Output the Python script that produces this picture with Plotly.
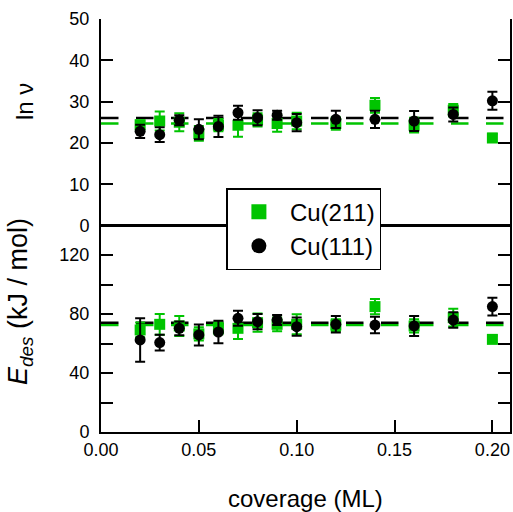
import plotly.graph_objects as go

# ---------------- data ----------------
coverage = [0.02, 0.03, 0.04, 0.05, 0.06, 0.07, 0.08, 0.09, 0.10, 0.12, 0.14, 0.16, 0.18, 0.20]

# ln(nu)
lnnu_211 = [24.4, 25.3, 25.0, 22.3, 24.3, 24.3, 25.6, 24.7, 25.3, 24.7, 29.1, 24.3, 27.9, 21.2]
lnnu_211_err = [1.0, 2.3, 2.2, 1.8, 1.5, 2.8, 1.6, 2.0, 2.0, 1.5, 1.8, 1.8, 1.5, 1.0]
lnnu_111 = [22.8, 22.0, 25.5, 23.3, 24.0, 27.3, 26.1, 26.7, 24.9, 25.7, 25.7, 25.3, 26.9, 30.2]
lnnu_111_err = [1.6, 1.8, 1.2, 2.4, 2.6, 1.7, 1.8, 1.1, 2.1, 2.1, 2.1, 2.4, 1.7, 2.2]

# E_des (kJ/mol)
edes_211 = [69.2, 73.0, 71.9, 66.5, 70.3, 70.3, 74.1, 73.0, 73.0, 72.5, 85.0, 71.9, 77.5, 62.8]
edes_211_err = [5.0, 7.0, 6.8, 4.5, 4.0, 7.3, 6.2, 4.7, 6.8, 4.0, 5.1, 4.5, 6.0, 2.5]
edes_111 = [62.4, 60.6, 70.3, 65.8, 67.8, 77.1, 74.8, 75.9, 71.4, 73.0, 72.5, 71.9, 75.9, 85.0]
edes_111_err = [14.8, 5.4, 4.7, 7.1, 7.7, 5.1, 5.2, 3.4, 6.2, 5.6, 5.6, 6.8, 5.3, 6.0]

# mean values (dashed lines)
mean_lnnu_211, mean_lnnu_111 = 24.7, 26.0
mean_edes_211, mean_edes_111 = 72.5, 74.1

x_range = [0.0, 0.209]
x_ticks = [0.0, 0.05, 0.10, 0.15, 0.20]
x_ticktext = ["0.00", "0.05", "0.10", "0.15", "0.20"]
top_ticks = [0, 10, 20, 30, 40, 50]
bot_ticks = [0, 20, 40, 60, 80, 100, 120, 140]
bot_ticktext = ["0", "", "40", "", "80", "", "120", ""]

series_names = ["Cu(211)", "Cu(111)"]
GREEN = "#00c400"
BLACK = "#000000"
FONT = "Liberation Sans, Arial, Helvetica, sans-serif"

fig = go.Figure()

# dashed mean lines
for val, col, ya in [(mean_lnnu_211, GREEN, "y2"), (mean_lnnu_111, BLACK, "y2"),
                     (mean_edes_211, GREEN, "y"), (mean_edes_111, BLACK, "y")]:
    fig.add_trace(go.Scatter(x=x_range, y=[val, val], mode="lines", xaxis="x", yaxis=ya,
                             line=dict(color=col, width=2.5, dash="17.5px,17.5px"),
                             showlegend=False, hoverinfo="skip"))

def pts(y, err, col, sym, size, ya):
    return go.Scatter(x=coverage, y=y, mode="markers", xaxis="x", yaxis=ya,
                      marker=dict(color=col, symbol=sym, size=size, line=dict(width=0)),
                      error_y=dict(type="data", array=err, visible=True, color=col,
                                   thickness=2, width=5),
                      showlegend=False)

fig.add_trace(pts(lnnu_211, lnnu_211_err, GREEN, "square", 11, "y2"))
fig.add_trace(pts(edes_211, edes_211_err, GREEN, "square", 11, "y"))
fig.add_trace(pts(lnnu_111, lnnu_111_err, BLACK, "circle", 11, "y2"))
fig.add_trace(pts(edes_111, edes_111_err, BLACK, "circle", 11, "y"))

# legend entries
fig.add_trace(go.Scatter(x=[None], y=[None], mode="markers", name=series_names[0],
                         marker=dict(color=GREEN, symbol="square", size=15)))
fig.add_trace(go.Scatter(x=[None], y=[None], mode="markers", name=series_names[1],
                         marker=dict(color=BLACK, symbol="circle", size=15)))

axis_common = dict(showline=True, linecolor="black", linewidth=2, ticks="inside",
                   ticklen=12, tickwidth=2, tickcolor="black", showgrid=False,
                   zeroline=False, tickfont=dict(family=FONT, size=18, color="black"))

fig.update_layout(
    width=513, height=512,
    margin=dict(l=101, r=1, t=19, b=80),
    paper_bgcolor="white", plot_bgcolor="white",
    font=dict(family=FONT, color="black"),
    xaxis=dict(axis_common, range=x_range, anchor="y", tickvals=x_ticks,
               ticktext=x_ticktext, mirror=True, ticklabelstandoff=0),
    xaxis2=dict(axis_common, range=x_range, anchor="y2", side="top", matches="x",
                tickvals=x_ticks, showticklabels=False, mirror=True),
    yaxis=dict(axis_common, domain=[0, 0.5], range=[0, 140], tickvals=bot_ticks,
               ticktext=bot_ticktext, mirror="ticks", ticklabelstandoff=6),
    yaxis2=dict(axis_common, domain=[0.5, 1], range=[0, 50], tickvals=top_ticks,
                mirror="ticks", ticklabelstandoff=6),
    legend=dict(x=0.3066, y=0.5787 + 0.012, xanchor="left", yanchor="top",
                bgcolor="white", bordercolor="black", borderwidth=1.5,
                font=dict(family=FONT, size=24, color="black"),
                itemwidth=52, tracegroupgap=0),
    showlegend=True,
)

# heavier divider between the two panels
fig.add_shape(type="line", xref="paper", yref="paper", x0=0, x1=1, y0=0.5, y1=0.5,
              line=dict(color="black", width=3), layer="below")

fig.add_annotation(text="ln ν", xref="paper", yref="paper", x=-0.187, y=0.80,
                   textangle=-90, showarrow=False, xanchor="center", yanchor="middle",
                   font=dict(family=FONT, size=24, color="black"))
fig.add_annotation(text="<i>E</i><sub><i>des</i></sub> (kJ / mol)", xref="paper", yref="paper",
                   x=-0.197, y=0.316, textangle=-90, showarrow=False,
                   xanchor="center", yanchor="middle",
                   font=dict(family=FONT, size=27, color="black"))
fig.add_annotation(text="coverage (ML)", xref="paper", yref="paper", x=0.5, y=-0.162,
                   showarrow=False, xanchor="center", yanchor="middle",
                   font=dict(family=FONT, size=24, color="black"))

fig.write_html("out.html")
